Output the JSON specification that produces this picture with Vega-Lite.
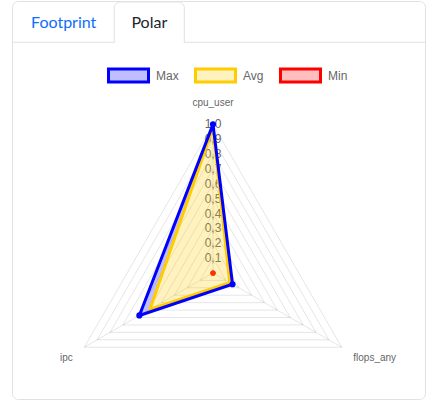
{
  "$schema": "https://vega.github.io/schema/vega-lite/v6.json",
  "width": 413,
  "height": 398,
  "autosize": {"type": "none"},
  "padding": {"left": 12, "top": 1, "right": 14, "bottom": 1},
  "background": "white",
  "config": {
    "view": {"stroke": "#dee2e6", "cornerRadius": 6, "strokeWidth": 1},
    "font": "Liberation Sans",
    "locale": {"number": {"decimal": ",", "thousands": ".", "grouping": [3], "currency": ["", " €"]}}
  },
  "datasets": {
    "axes": [
      {"axis": "cpu_user", "angle": 0},
      {"axis": "flops_any", "angle": 120},
      {"axis": "ipc", "angle": 240}
    ],
    "levels": [
      {"level": 0.1, "axis": ["cpu_user", "flops_any", "ipc"]},
      {"level": 0.2, "axis": ["cpu_user", "flops_any", "ipc"]},
      {"level": 0.3, "axis": ["cpu_user", "flops_any", "ipc"]},
      {"level": 0.4, "axis": ["cpu_user", "flops_any", "ipc"]},
      {"level": 0.5, "axis": ["cpu_user", "flops_any", "ipc"]},
      {"level": 0.6, "axis": ["cpu_user", "flops_any", "ipc"]},
      {"level": 0.7, "axis": ["cpu_user", "flops_any", "ipc"]},
      {"level": 0.8, "axis": ["cpu_user", "flops_any", "ipc"]},
      {"level": 0.9, "axis": ["cpu_user", "flops_any", "ipc"]},
      {"level": 1.0, "axis": ["cpu_user", "flops_any", "ipc"]}
    ],
    "stats": [
      {"series": "Max", "axis": "cpu_user", "value": 1.0},
      {"series": "Max", "axis": "flops_any", "value": 0.152},
      {"series": "Max", "axis": "ipc", "value": 0.572},
      {"series": "Avg", "axis": "cpu_user", "value": 0.98},
      {"series": "Avg", "axis": "flops_any", "value": 0.13},
      {"series": "Avg", "axis": "ipc", "value": 0.49},
      {"series": "Min", "axis": "cpu_user", "value": 0},
      {"series": "Min", "axis": "flops_any", "value": 0},
      {"series": "Min", "axis": "ipc", "value": 0}
    ],
    "tabs": [
      {"tab": "Footprint", "active": false},
      {"tab": "Polar", "active": true}
    ]
  },
  "layer": [
    {
      "data": {"name": "levels"},
      "transform": [
        {"flatten": ["axis"]},
        {"lookup": "axis", "from": {"data": {"name": "axes"}, "key": "axis", "fields": ["angle"]}},
        {"calculate": "datum.level * sin(datum.angle * PI / 180)", "as": "gx"},
        {"calculate": "datum.level * cos(datum.angle * PI / 180)", "as": "gy"},
        {"calculate": "datum.angle / 120", "as": "k"}
      ],
      "mark": {"type": "line", "interpolate": "linear-closed", "stroke": "rgba(0,0,0,0.1)", "strokeWidth": 1},
      "encoding": {
        "x": {"field": "gx", "type": "quantitative", "scale": {"domain": [-1.3526, 1.4267], "nice": false, "zero": false}, "axis": null},
        "y": {"field": "gy", "type": "quantitative", "scale": {"domain": [-0.8483, 1.83], "nice": false, "zero": false}, "axis": null},
        "detail": {"field": "level", "type": "nominal"},
        "order": {"field": "k", "type": "quantitative"}
      }
    },
    {
      "data": {"name": "axes"},
      "transform": [
        {"calculate": "sin(datum.angle * PI / 180)", "as": "ex"},
        {"calculate": "cos(datum.angle * PI / 180)", "as": "ey"},
        {"calculate": "0", "as": "o"}
      ],
      "mark": {"type": "rule", "stroke": "rgba(0,0,0,0.1)", "strokeWidth": 1},
      "encoding": {
        "x": {"field": "o", "type": "quantitative"},
        "y": {"field": "o", "type": "quantitative"},
        "x2": {"field": "ex"},
        "y2": {"field": "ey"}
      }
    },
    {
      "data": {"name": "levels"},
      "transform": [{"calculate": "0", "as": "o"}],
      "mark": {"type": "text", "font": "Liberation Sans", "fontSize": 12, "color": "#666", "align": "center", "baseline": "middle"},
      "encoding": {
        "x": {"field": "o", "type": "quantitative"},
        "y": {"field": "level", "type": "quantitative"},
        "text": {"field": "level", "type": "quantitative", "format": ".1f"}
      }
    },
    {
      "data": {"name": "stats"},
      "transform": [
        {"lookup": "axis", "from": {"data": {"name": "axes"}, "key": "axis", "fields": ["angle"]}},
        {"calculate": "datum.value * sin(datum.angle * PI / 180)", "as": "px"},
        {"calculate": "datum.value * cos(datum.angle * PI / 180)", "as": "py"},
        {"calculate": "datum.angle / 120", "as": "k"},
        {"calculate": "datum.series == 'Max' ? datum.k : 3 + (3 - datum.k) % 3", "as": "ring"}
      ],
      "layer": [
        {
          "transform": [{"filter": "datum.series == 'Min'"}],
          "mark": {"type": "circle", "color": "#ff0000", "size": 26, "opacity": 1},
          "encoding": {
            "x": {"field": "px", "type": "quantitative"},
            "y": {"field": "py", "type": "quantitative"}
          }
        },
        {
          "transform": [{"filter": "datum.series == 'Max' || datum.series == 'Avg'"}],
          "mark": {"type": "line", "interpolate": "linear-closed", "fill": "rgba(0,0,255,0.25)", "stroke": "transparent", "strokeWidth": 0},
          "encoding": {
            "x": {"field": "px", "type": "quantitative"},
            "y": {"field": "py", "type": "quantitative"},
            "order": {"field": "ring", "type": "quantitative"}
          }
        },
        {
          "transform": [{"filter": "datum.series == 'Avg'"}],
          "mark": {"type": "line", "interpolate": "linear-closed", "strokeWidth": 3, "strokeJoin": "miter"},
          "encoding": {
            "x": {"field": "px", "type": "quantitative"},
            "y": {"field": "py", "type": "quantitative"},
            "order": {"field": "k", "type": "quantitative"},
            "stroke": {
              "field": "series", "type": "nominal",
              "scale": {"domain": ["Max", "Avg", "Min"], "range": ["#0000ff", "#ffcc00", "#ff0000"]},
              "legend": {"orient": "none", "legendX": 95, "legendY": 53, "direction": "horizontal", "title": null,
                "symbolType": "M-1,-0.325H1V0.325H-1Z", "symbolSize": 1600, "symbolStrokeWidth": 3,
                "labelFont": "Liberation Sans", "labelFontSize": 12, "labelColor": "#666", "labelOffset": 6, "columnPadding": 10}
            },
            "fill": {
              "field": "series", "type": "nominal",
              "scale": {"domain": ["Max", "Avg", "Min"], "range": ["rgba(0,0,255,0.25)", "rgba(255,204,0,0.25)", "rgba(255,0,0,0.25)"]},
              "legend": {"orient": "none", "legendX": 95, "legendY": 53, "direction": "horizontal", "title": null,
                "symbolType": "M-1,-0.325H1V0.325H-1Z", "symbolSize": 1600, "symbolStrokeWidth": 3,
                "labelFont": "Liberation Sans", "labelFontSize": 12, "labelColor": "#666", "labelOffset": 6, "columnPadding": 10}
            }
          }
        },
        {
          "transform": [{"filter": "datum.series == 'Max'"}],
          "mark": {"type": "line", "interpolate": "linear-closed", "strokeWidth": 3, "strokeJoin": "miter"},
          "encoding": {
            "x": {"field": "px", "type": "quantitative"},
            "y": {"field": "py", "type": "quantitative"},
            "order": {"field": "k", "type": "quantitative"},
            "stroke": {"field": "series", "type": "nominal"}
          }
        },
        {
          "transform": [{"filter": "datum.series == 'Max'"}],
          "mark": {"type": "circle", "color": "#0000ff", "size": 38, "opacity": 1},
          "encoding": {
            "x": {"field": "px", "type": "quantitative"},
            "y": {"field": "py", "type": "quantitative"}
          }
        }
      ]
    },
    {
      "data": {"name": "axes"},
      "transform": [
        {"calculate": "1.09 * sin(datum.angle * PI / 180)", "as": "lx"},
        {"calculate": "1.09 * cos(datum.angle * PI / 180)", "as": "ly"}
      ],
      "layer": [
        {
          "transform": [{"filter": "datum.angle == 0"}],
          "mark": {"type": "text", "fontSize": 10, "color": "#666", "align": "center", "baseline": "middle", "dy": -7.5},
          "encoding": {
            "x": {"field": "lx", "type": "quantitative"},
            "y": {"field": "ly", "type": "quantitative"},
            "text": {"field": "axis", "type": "nominal"}
          }
        },
        {
          "transform": [{"filter": "datum.angle == 120"}],
          "mark": {"type": "text", "fontSize": 10, "color": "#666", "align": "left", "baseline": "middle", "dy": 4},
          "encoding": {
            "x": {"field": "lx", "type": "quantitative"},
            "y": {"field": "ly", "type": "quantitative"},
            "text": {"field": "axis", "type": "nominal"}
          }
        },
        {
          "transform": [{"filter": "datum.angle == 240"}],
          "mark": {"type": "text", "fontSize": 10, "color": "#666", "align": "right", "baseline": "middle", "dy": 4},
          "encoding": {
            "x": {"field": "lx", "type": "quantitative"},
            "y": {"field": "ly", "type": "quantitative"},
            "text": {"field": "axis", "type": "nominal"}
          }
        }
      ]
    },
    {
      "data": {"name": "tabs"},
      "transform": [{"filter": "datum.active"}],
      "layer": [
        {
          "mark": {"type": "rule", "stroke": "#dee2e6", "strokeWidth": 1},
          "encoding": {
            "x": {"datum": -1.3526, "type": "quantitative"},
            "x2": {"datum": 1.4267},
            "y": {"datum": 1.5521, "type": "quantitative"}
          }
        },
        {
          "mark": {"type": "rect", "fill": "white", "stroke": "#dee2e6", "strokeWidth": 1, "cornerRadiusTopLeft": 6, "cornerRadiusTopRight": 6},
          "encoding": {
            "x": {"datum": -0.6642, "type": "quantitative"},
            "x2": {"datum": -0.1931},
            "y": {"datum": 1.8233, "type": "quantitative"},
            "y2": {"datum": 1.5521}
          }
        },
        {
          "mark": {"type": "rule", "stroke": "white", "strokeWidth": 2},
          "encoding": {
            "x": {"datum": -0.6605, "type": "quantitative"},
            "x2": {"datum": -0.1968},
            "y": {"datum": 1.5521, "type": "quantitative"}
          }
        },
        {
          "mark": {"type": "text", "font": "Lato", "fontSize": 16, "color": "#212529", "align": "center", "baseline": "alphabetic"},
          "encoding": {
            "x": {"datum": -0.4286, "type": "quantitative"},
            "y": {"datum": 1.6483, "type": "quantitative"},
            "text": {"field": "tab", "type": "nominal"}
          }
        }
      ]
    },
    {
      "data": {"name": "tabs"},
      "transform": [{"filter": "!datum.active"}],
      "mark": {"type": "text", "font": "Lato", "fontSize": 16, "color": "#0d6efd", "align": "center", "baseline": "alphabetic"},
      "encoding": {
        "x": {"datum": -1.0047, "type": "quantitative"},
        "y": {"datum": 1.6483, "type": "quantitative"},
        "text": {"field": "tab", "type": "nominal"}
      }
    }
  ]
}
